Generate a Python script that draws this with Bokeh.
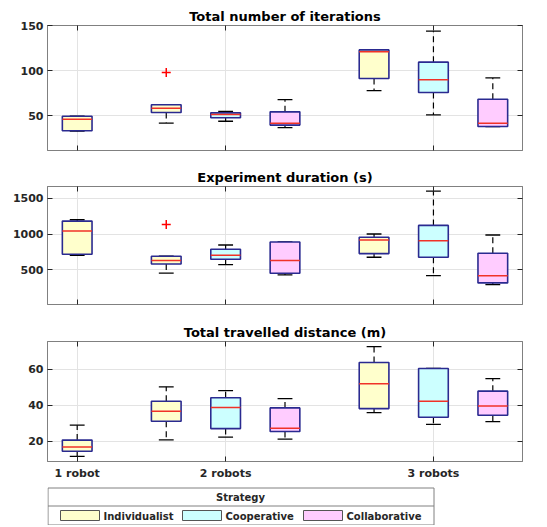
from bokeh.plotting import figure
from bokeh.models import FixedTicker, LinearAxis, Range1d, ColumnDataSource
from bokeh.layouts import column
from bokeh.core.properties import value
from bokeh.embed import file_html
from bokeh.resources import INLINE

# ---------------- data ----------------
groups = ["1 robot", "2 robots", "3 robots"]
strategies = ["Individualist", "Cooperative", "Collaborative"]
box_group = [0, 1, 1, 1, 2, 2, 2]
box_strategy = [0, 0, 1, 2, 0, 1, 2]

iter_min = [33, 42, 44, 37, 78, 51, 38]
iter_q1 = [33.5, 53.7, 47.8, 39.7, 91.3, 75.8, 38.2]
iter_med = [46.3, 58.5, 51.5, 41.9, 120.8, 89.9, 41.9]
iter_q3 = [49.6, 62.2, 53.3, 54.4, 123, 109.4, 68.4]
iter_max = [49.6, 62.2, 54.8, 68, 123, 143.7, 92]
iter_out_box = [1]
iter_out_val = [98]

dur_min = [704, 454, 574, 430, 676, 421, 296]
dur_q1 = [718, 583, 648, 454, 727, 676, 319]
dur_med = [1042, 630, 704, 630, 917, 907, 417]
dur_q3 = [1180, 690, 787, 889, 954, 1120, 731]
dur_max = [1199, 690, 847, 889, 1000, 1597, 986]
dur_out_box = [1]
dur_out_val = [1134]

dist_min = [11.5, 20.7, 22.2, 21.1, 35.9, 29.3, 30.9]
dist_q1 = [14.4, 31.1, 27.0, 25.4, 38.1, 33.3, 34.4]
dist_med = [16.7, 36.7, 38.7, 27.2, 51.9, 42.2, 39.6]
dist_q3 = [20.6, 42.2, 44.1, 38.5, 63.7, 60.4, 47.8]
dist_max = [28.9, 50.2, 48.1, 43.7, 72.6, 60.4, 54.8]
dist_out_box = []
dist_out_val = []

iter_ticks = [50, 100, 150]
dur_ticks = [500, 1000, 1500]
dist_ticks = [20, 40, 60]

# ---------------- style ----------------
FONT = "DejaVu Sans"
TXT = "#262626"
AX = "#808080"
FILLS = ["#ffffcc", "#ccffff", "#ffccff"]
EDGE = "#2a2a90"
MED = "#f03228"
group_start = [1.0, 2.5, 6.0]
group_center = [1.0, 3.5, 7.0]
positions = [group_start[g] + s for g, s in zip(box_group, box_strategy)]
BOX_W = 0.5
CAP_W = 0.25
LEFT_B, RIGHT_B, FRAME_W = 47, 25, 475


def style_axis(ax, ticks, labels=True):
    ax.axis_line_color = AX
    ax.axis_line_width = 1
    ax.major_tick_line_color = TXT
    ax.major_tick_in = 5
    ax.major_tick_out = 0
    ax.minor_tick_line_color = None
    ax.major_label_text_font = FONT
    ax.major_label_text_font_style = "bold"
    ax.major_label_text_color = TXT
    if labels:
        ax.major_label_text_font_size = "11px"
        ax.major_label_standoff = 4
    else:
        ax.major_label_text_font_size = "0px"
        ax.major_label_standoff = 0
        ax.major_label_overrides = {t: "" for t in ticks}


def make_panel(title, mins, q1s, meds, q3s, maxs, out_box, out_val, yticks,
               yrange, show_x_labels, top_border, bottom_border, frame_h):
    p = figure(frame_width=FRAME_W, frame_height=frame_h,
               x_range=Range1d(0.5, 8.5), y_range=Range1d(*yrange),
               output_backend="svg", toolbar_location=None,
               min_border_left=LEFT_B, min_border_right=RIGHT_B,
               min_border_top=top_border, min_border_bottom=bottom_border)
    p.title.text = title
    p.title.text_font = FONT
    p.title.text_font_size = "13px"
    p.title.text_font_style = "bold"
    p.title.text_color = "#000000"
    p.title.align = "center"
    p.title.standoff = 3
    p.outline_line_color = AX
    p.outline_line_width = 1
    p.background_fill_color = "white"
    p.border_fill_color = "white"

    xt = FixedTicker(ticks=group_center)
    yt = FixedTicker(ticks=yticks)
    p.xaxis.ticker = xt
    p.yaxis.ticker = yt
    style_axis(p.yaxis[0], yticks, True)
    style_axis(p.xaxis[0], group_center, show_x_labels)
    if show_x_labels:
        p.xaxis.major_label_overrides = {group_center[i]: groups[i] for i in range(3)}
        p.xaxis.major_label_standoff = 5
    p.xgrid.ticker = xt
    p.ygrid.ticker = yt
    p.grid.grid_line_color = "#e3e3e3"
    p.grid.grid_line_width = 1

    top_ax = LinearAxis(ticker=xt)
    style_axis(top_ax, group_center, False)
    p.add_layout(top_ax, "above")
    right_ax = LinearAxis(ticker=yt)
    style_axis(right_ax, yticks, False)
    p.add_layout(right_ax, "right")

    src = ColumnDataSource(dict(
        x=positions,
        xl=[x - BOX_W / 2 for x in positions],
        xr=[x + BOX_W / 2 for x in positions],
        cl=[x - CAP_W / 2 for x in positions],
        cr=[x + CAP_W / 2 for x in positions],
        mn=mins, q1=q1s, md=meds, q3=q3s, mx=maxs,
        fill=[FILLS[s] for s in box_strategy],
    ))
    # whiskers
    p.segment(x0="x", y0="q3", x1="x", y1="mx", source=src,
              line_color="black", line_width=1.2, line_dash="6 4")
    p.segment(x0="x", y0="q1", x1="x", y1="mn", source=src,
              line_color="black", line_width=1.2, line_dash="6 4")
    # caps
    p.segment(x0="cl", y0="mx", x1="cr", y1="mx", source=src,
              line_color="black", line_width=1.3)
    p.segment(x0="cl", y0="mn", x1="cr", y1="mn", source=src,
              line_color="black", line_width=1.3)
    # boxes
    p.quad(left="xl", right="xr", bottom="q1", top="q3", source=src,
           fill_color="fill", line_color=EDGE, line_width=1.6)
    # medians
    p.segment(x0="xl", y0="md", x1="xr", y1="md", source=src,
              line_color=MED, line_width=1.5)
    # outliers
    if out_box:
        p.scatter(x=[positions[b] for b in out_box], y=out_val, marker="cross",
                  size=9, line_color="red", line_width=1.5)
    return p


f1 = make_panel("Total number of iterations", iter_min, iter_q1, iter_med,
                iter_q3, iter_max, iter_out_box, iter_out_val, iter_ticks,
                (11.6, 150), False, 25, 13, 125)
f2 = make_panel("Experiment duration (s)", dur_min, dur_q1, dur_med, dur_q3,
                dur_max, dur_out_box, dur_out_val, dur_ticks,
                (18, 1662), False, 23, 12, 118)
f3 = make_panel("Total travelled distance (m)", dist_min, dist_q1, dist_med,
                dist_q3, dist_max, dist_out_box, dist_out_val, dist_ticks,
                (8.7, 75.4), True, 25, 24, 120)

# ---------------- legend (page-pixel coordinates) ----------------
lg = figure(frame_width=FRAME_W, frame_height=40,
            x_range=Range1d(LEFT_B, LEFT_B + FRAME_W), y_range=Range1d(527, 487),
            min_border_left=LEFT_B, min_border_right=RIGHT_B,
            min_border_top=0, min_border_bottom=0,
            output_backend="svg", toolbar_location=None,
            x_axis_type=None, y_axis_type=None)
lg.outline_line_color = None
lg.grid.visible = False
lg.quad(left=[47.5], right=[433.5], top=[489.5], bottom=[526.5],
        fill_color="white", line_color=AX, line_width=1)
lg.segment(x0=[47.5], x1=[433.5], y0=[507.5], y1=[507.5], line_color=AX, line_width=1)
lg.text(x=[240], y=[498.5], text=["Strategy"], text_align="center",
        text_baseline="middle", text_font=value(FONT), text_font_style="bold",
        text_font_size="10px", text_color=TXT)
sw_left = [60, 182, 303]
lg.quad(left=sw_left, right=[l + 39 for l in sw_left], top=[512] * 3, bottom=[522] * 3,
        fill_color=FILLS, line_color="#555555", line_width=1)
lg.text(x=[l + 43 for l in sw_left], y=[517.5] * 3, text=strategies,
        text_align="left", text_baseline="middle", text_font=value(FONT),
        text_font_style="bold", text_font_size="10px", text_color=TXT)

layout = column(f1, f2, f3, lg, spacing=0)
open("out.html", "w").write(file_html(layout, INLINE))
